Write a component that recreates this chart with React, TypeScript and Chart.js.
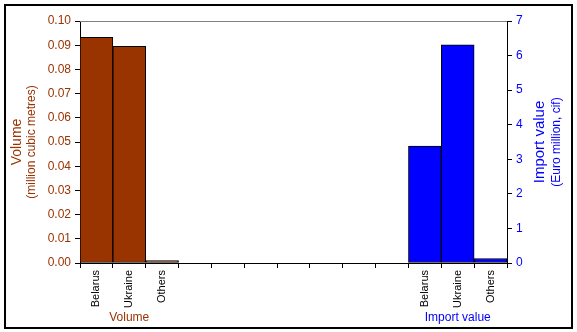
import React, { useEffect, useRef } from "react";
import { Chart, registerables } from "chart.js";

Chart.register(...registerables);

const categories = ["Belarus", "Ukraine", "Others", "", "", "", "", "", "", "", "Belarus", "Ukraine", "Others"];
const volumeValues: (number | null)[] = [0.0933, 0.0895, 0.001, null, null, null, null, null, null, null, null, null, null];
const importValues: (number | null)[] = [null, null, null, null, null, null, null, null, null, null, 3.38, 6.31, 0.13];
const groupLabels = ["Volume", "Import value"];
const groupCenters = [1, 11];
const leftTitle = ["Volume", "(million cubic metres)"];
const rightTitle = ["Import value", "(Euro million, cif)"];

const BROWN = "#993300";
const BLUE = "#0000FF";
const FONT = "'Liberation Sans', Arial, sans-serif";

const decorPlugin = {
  id: "decor",
  beforeDraw(chart: any) {
    const ctx = chart.ctx;
    ctx.save();
    ctx.fillStyle = "#ffffff";
    ctx.fillRect(0, 0, chart.width, chart.height);
    ctx.restore();
  },
  afterDraw(chart: any) {
    const ctx = chart.ctx;
    const a = chart.chartArea;
    const x = chart.scales.x;
    ctx.save();
    // outer frame
    ctx.strokeStyle = "#000";
    ctx.lineWidth = 2;
    ctx.strokeRect(5, 5, 567, 323);
    // top gray line of plot area
    ctx.strokeStyle = "#808080";
    ctx.lineWidth = 1;
    ctx.beginPath();
    ctx.moveTo(a.left, a.top + 0.5);
    ctx.lineTo(a.right, a.top + 0.5);
    ctx.stroke();
    // group labels
    ctx.textAlign = "center";
    ctx.textBaseline = "middle";
    ctx.font = `12px ${FONT}`;
    ctx.fillStyle = BROWN;
    ctx.fillText(groupLabels[0], x.getPixelForValue(groupCenters[0]), 318);
    ctx.fillStyle = BLUE;
    ctx.fillText(groupLabels[1], x.getPixelForValue(groupCenters[1]), 318);
    // axis titles
    const cy = (a.top + a.bottom) / 2;
    const drawRot = (text: string, px: number, size: number, color: string) => {
      ctx.save();
      ctx.translate(px, cy);
      ctx.rotate(-Math.PI / 2);
      ctx.font = `${size}px ${FONT}`;
      ctx.fillStyle = color;
      ctx.textAlign = "center";
      ctx.textBaseline = "middle";
      ctx.fillText(text, 0, 0);
      ctx.restore();
    };
    drawRot(leftTitle[0], 17, 14, BROWN);
    drawRot(leftTitle[1], 32, 12, BROWN);
    drawRot(rightTitle[0], 540, 15, BLUE);
    drawRot(rightTitle[1], 557, 12, BLUE);
    ctx.restore();
  },
};

export default function App() {
  const ref = useRef<HTMLCanvasElement | null>(null);
  useEffect(() => {
    document.body.style.margin = "0";
    if (!ref.current) return;
    Chart.defaults.font.family = FONT;
    const chart = new Chart(ref.current, {
      type: "bar",
      data: {
        labels: categories,
        datasets: [
          {
            label: "Volume",
            data: volumeValues,
            yAxisID: "yL",
            backgroundColor: BROWN,
            borderColor: "#000",
            borderWidth: 1,
            borderSkipped: false,
            barPercentage: 1,
            categoryPercentage: 1,
            grouped: false,
          } as any,
          {
            label: "Import value",
            data: importValues,
            yAxisID: "yR",
            backgroundColor: BLUE,
            borderColor: "#000",
            borderWidth: 1,
            borderSkipped: false,
            barPercentage: 1,
            categoryPercentage: 1,
            grouped: false,
          } as any,
        ],
      },
      options: {
        animation: false,
        responsive: false,
        devicePixelRatio: 1,
        layout: { padding: { top: 21, left: 0, right: 0, bottom: 0 } },
        plugins: { legend: { display: false }, tooltip: { enabled: false } },
        scales: {
          x: {
            type: "category",
            offset: true,
            grid: { offset: true, drawOnChartArea: false, drawTicks: true, tickLength: 5, color: "#000" },
            border: { color: "#000" },
            ticks: {
              autoSkip: false,
              minRotation: 90,
              maxRotation: 90,
              color: "#000",
              padding: 2,
              font: { size: 11 },
            },
            afterFit: (s: any) => {
              s.height = 69;
            },
          },
          yL: {
            position: "left",
            min: 0,
            max: 0.1,
            grid: { drawOnChartArea: false, tickLength: 5, color: "#000" },
            border: { color: "#000" },
            ticks: {
              stepSize: 0.01,
              color: BROWN,
              padding: 4,
              font: { size: 12 },
              callback: (v: any) => Number(v).toFixed(2),
            },
            afterFit: (s: any) => {
              s.width = 80;
            },
          },
          yR: {
            position: "right",
            min: 0,
            max: 7,
            grid: { drawOnChartArea: false, tickLength: 5, color: "#000" },
            border: { color: "#000" },
            ticks: {
              stepSize: 1,
              color: BLUE,
              padding: 4,
              font: { size: 12 },
            },
            afterFit: (s: any) => {
              s.width = 70;
            },
          },
        },
      } as any,
      plugins: [decorPlugin],
    });
    return () => chart.destroy();
  }, []);
  return (
    <div style={{ width: 577, height: 332 }}>
      <canvas ref={ref} width={577} height={332} style={{ display: "block", width: 577, height: 332 }} />
    </div>
  );
}
